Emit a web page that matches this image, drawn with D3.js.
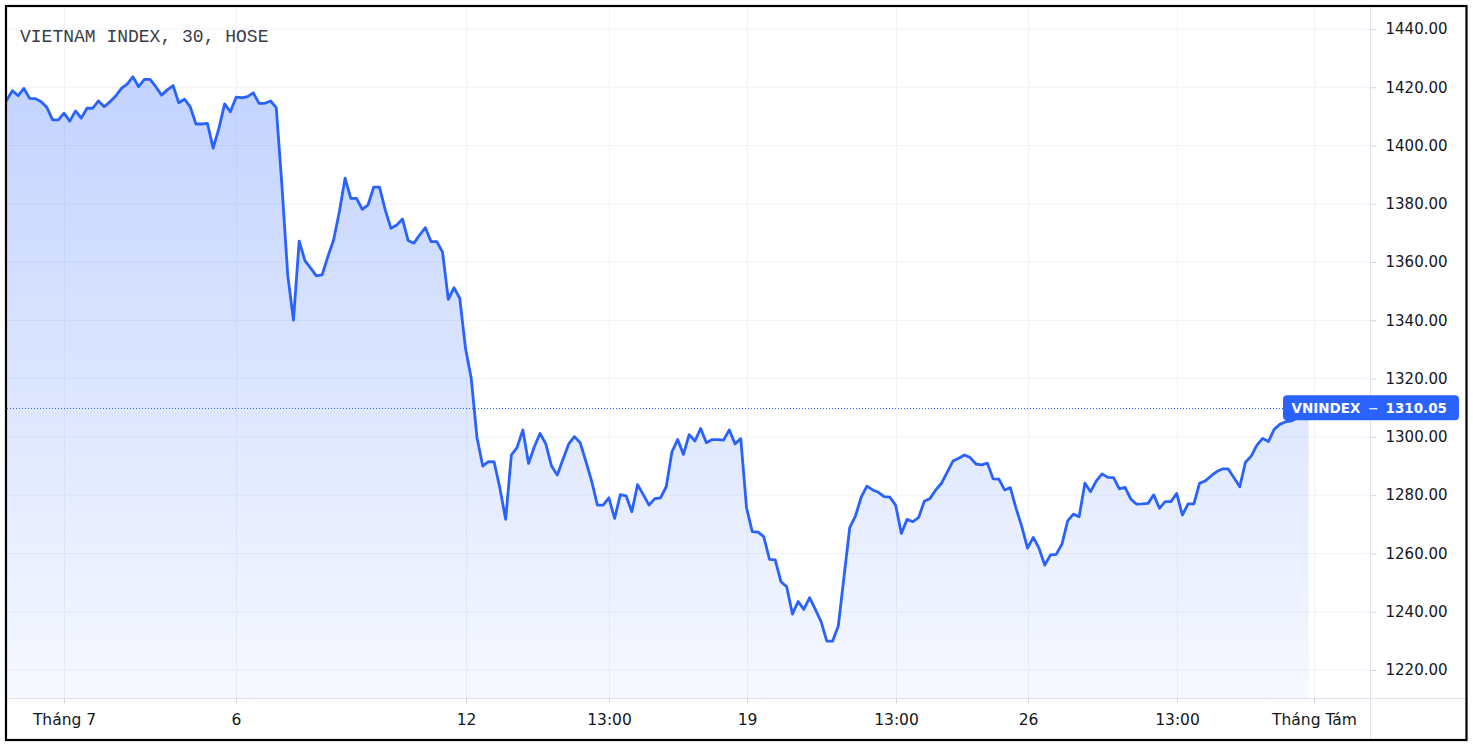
<!DOCTYPE html>
<html><head><meta charset="utf-8">
<script src="https://cdn.jsdelivr.net/npm/d3@7"></script>
<style>body{margin:0;background:#fff;} svg{display:block;}</style>
</head><body>
<svg id="c" width="1473" height="750"></svg>
<script>
const title = "VIETNAM INDEX, 30, HOSE";
const seriesName = "VNINDEX";
const lastPrice = 1310.05;
// 30-minute closes, oldest first
const closes = [
1415.6,1418.8,1417.1,1419.6,1416.2,1416.1,1415.0,1413.1,1408.8,1408.8,
1411.1,1408.4,1411.9,1409.4,1412.8,1412.8,1415.3,1413.3,1415.0,1417.0,
1419.6,1421.1,1423.6,1420.2,1422.7,1422.7,1420.2,1417.3,1419.1,1420.6,
1414.7,1415.9,1413.3,1407.4,1407.4,1407.6,1399.1,1405.9,1414.3,1411.6,
1416.6,1416.4,1416.8,1418.1,1414.5,1414.5,1415.3,1413.0,1386.0,1355.6,
1340.1,1367.2,1360.5,1357.9,1355.3,1355.6,1361.9,1367.6,1377.3,1388.8,
1381.9,1381.9,1378.1,1379.6,1385.7,1385.7,1377.9,1371.6,1372.7,1374.8,
1367.4,1366.5,1369.3,1371.8,1367.0,1367.0,1363.4,1347.2,1351.2,1347.6,
1330.4,1320.1,1299.8,1290.0,1291.5,1291.4,1282.4,1271.7,1293.8,1296.4,
1302.4,1290.9,1296.6,1301.2,1297.6,1290.0,1286.9,1292.3,1297.6,1300.1,
1298.0,1291.5,1284.8,1276.6,1276.6,1279.1,1272.0,1280.2,1279.8,1274.3,
1283.6,1280.2,1276.6,1278.8,1279.1,1282.9,1294.9,1299.1,1294.0,1300.8,
1298.6,1302.9,1298.0,1299.1,1299.1,1298.9,1302.4,1297.6,1299.4,1275.7,
1267.5,1267.3,1265.8,1258.0,1257.8,1250.3,1248.6,1239.2,1243.5,1240.8,
1244.8,1240.8,1236.6,1229.9,1229.9,1235.1,1252.0,1268.9,1272.9,1279.3,
1283.1,1281.8,1281.0,1279.5,1279.3,1276.6,1266.9,1271.7,1270.9,1272.3,
1277.9,1278.9,1281.8,1284.1,1287.9,1291.7,1292.7,1293.8,1292.9,1290.7,
1290.4,1291.0,1285.6,1285.5,1281.8,1282.6,1275.5,1269.2,1261.8,1265.5,
1261.8,1256.0,1259.5,1259.7,1263.2,1271.2,1273.5,1272.6,1284.1,1281.2,
1284.9,1287.3,1286.1,1286.0,1282.2,1282.7,1278.7,1276.9,1277.0,1277.2,
1280.1,1275.5,1277.8,1277.8,1280.6,1273.2,1277.0,1277.0,1284.1,1284.9,
1286.6,1288.1,1289.0,1289.0,1286.0,1282.9,1291.3,1293.4,1297.2,1299.5,
1298.4,1302.6,1304.3,1305.2,1305.5,1306.5,1308.5,1310.05
];
const yTicks = [1220,1240,1260,1280,1300,1320,1340,1360,1380,1400,1420,1440];
const xTickIndex = [10,40,80,105,129,155,178,204,228];
const xTickLabels = ["Tháng 7","6","12","13:00","19","13:00","26","13:00","Tháng Tám"];

const svg = d3.select("#c");
const L = 7, R = 1370, T = 7, B = 698;
const x = d3.scaleLinear().domain([0, closes.length - 1]).range([6.7, 6.7 + (closes.length - 1) * 5.735]);
const y = d3.scaleLinear().domain([1220, 1440]).range([670, 29]);
const data = closes.map((v, i) => ({i, v}));

svg.append("rect").attr("width", 1473).attr("height", 750).attr("fill", "#fff");

const defs = svg.append("defs");
defs.append("clipPath").attr("id", "plot").append("rect")
  .attr("x", L).attr("y", T).attr("width", R - L).attr("height", B - T);
const grad = defs.append("linearGradient").attr("id", "g")
  .attr("gradientUnits", "userSpaceOnUse")
  .attr("x1", 0).attr("x2", 0).attr("y1", y(d3.max(closes))).attr("y2", B);
grad.append("stop").attr("offset", "0%").attr("stop-color", "#2962ff").attr("stop-opacity", 0.28);
grad.append("stop").attr("offset", "100%").attr("stop-color", "#2962ff").attr("stop-opacity", 0.04);

// grid
const grid = svg.append("g");
grid.selectAll(".hg").data(yTicks).join("line")
  .attr("x1", L).attr("x2", R).attr("y1", d => y(d)).attr("y2", d => y(d))
  .attr("stroke", "#f0f3fa").attr("stroke-width", 1);
grid.selectAll(".vg").data(xTickIndex).join("line")
  .attr("x1", d => Math.round(x(d)) + 0.5).attr("x2", d => Math.round(x(d)) + 0.5)
  .attr("y1", T).attr("y2", B)
  .attr("stroke", "#f0f3fa").attr("stroke-width", 1);

const plot = svg.append("g").attr("clip-path", "url(#plot)");
plot.append("path").datum(data)
  .attr("d", d3.area().x(d => x(d.i)).y0(B).y1(d => y(d.v)))
  .attr("fill", "url(#g)");
plot.append("path").datum(data)
  .attr("d", d3.line().x(d => x(d.i)).y(d => y(d.v)))
  .attr("fill", "none").attr("stroke", "#2962ff").attr("stroke-width", 2.8)
  .attr("stroke-linejoin", "round").attr("stroke-linecap", "round");

// price line
svg.append("line").attr("x1", L).attr("x2", 1283)
  .attr("y1", Math.round(y(lastPrice)) + 0.5).attr("y2", Math.round(y(lastPrice)) + 0.5)
  .attr("stroke", "#2962ff").attr("stroke-width", 1).attr("stroke-dasharray", "1,2");

// separators
svg.append("line").attr("x1", R + 0.5).attr("x2", R + 0.5).attr("y1", T).attr("y2", 741)
  .attr("stroke", "#e0e3eb");
svg.append("line").attr("x1", L).attr("x2", 1467).attr("y1", B + 0.5).attr("y2", B + 0.5)
  .attr("stroke", "#e0e3eb");

const font = "'DejaVu Sans', sans-serif";
// y axis
const ya = svg.append("g").attr("transform", `translate(${R + 0.5},0)`)
  .call(d3.axisRight(y).tickValues(yTicks).tickFormat(d3.format(".2f")).tickSize(6).tickPadding(9));
ya.select(".domain").remove();
ya.selectAll("line").attr("stroke", "#d1d4dc");
ya.selectAll("text").attr("font-family", font).attr("font-size", 15).attr("fill", "#131722");

// x axis
const xa = svg.append("g").attr("transform", `translate(0,${B + 0.5})`)
  .call(d3.axisBottom(x).tickValues(xTickIndex).tickFormat((d, i) => xTickLabels[i]).tickSize(5).tickPadding(10));
xa.select(".domain").remove();
xa.selectAll(".tick").attr("transform", d => `translate(${Math.round(x(d)) + 0.5},0)`);
xa.selectAll("line").attr("stroke", "#d1d4dc");
xa.selectAll("text").attr("font-family", font).attr("font-size", 15.5).attr("fill", "#131722");

// title
svg.append("text").attr("x", 20).attr("y", 42).text(title)
  .attr("font-family", "'Liberation Mono', 'DejaVu Sans Mono', monospace").attr("font-size", 18)
  .attr("fill", "#3b3d45");

// last price label
const ly = y(lastPrice);
const lab = svg.append("g");
lab.append("rect").attr("x", 1283).attr("y", ly - 12.5).attr("width", 176).attr("height", 25)
  .attr("rx", 4).attr("fill", "#2962ff");
lab.append("text").attr("x", 1291.5).attr("y", ly + 5.5).text(seriesName)
  .attr("font-family", font).attr("font-weight", "bold").attr("font-size", 13.5).attr("fill", "#fff");
lab.append("text").attr("x", 1373.5).attr("y", ly + 5).text("−").attr("text-anchor", "middle")
  .attr("font-family", font).attr("font-size", 13).attr("fill", "#fff");
lab.append("text").attr("x", 1447).attr("y", ly + 5.5).text(d3.format(".2f")(lastPrice)).attr("text-anchor", "end")
  .attr("font-family", font).attr("font-weight", "bold").attr("font-size", 13.5).attr("fill", "#fff");

// outer frame
svg.append("rect").attr("x", 6).attr("y", 6).attr("width", 1460.5).attr("height", 734)
  .attr("fill", "none").attr("stroke", "#000").attr("stroke-width", 2.2);
</script>
</body></html>
